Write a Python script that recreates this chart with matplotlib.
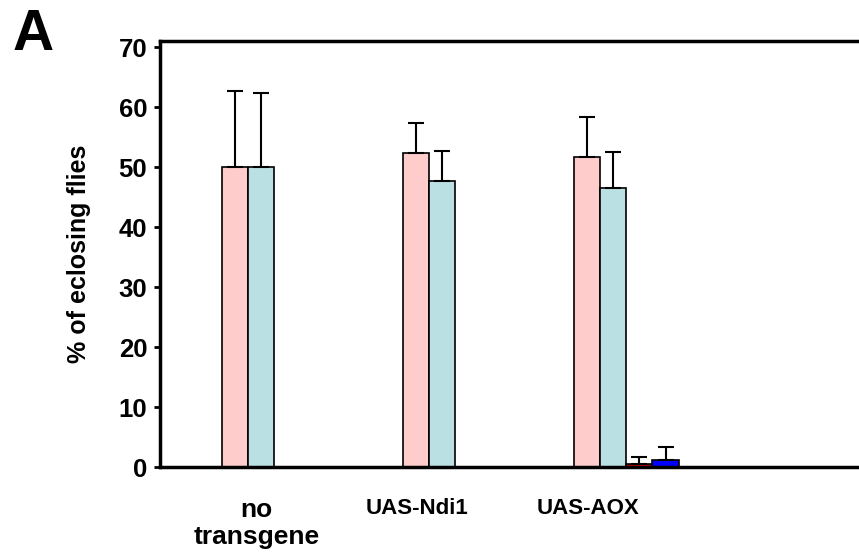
import numpy as np
import matplotlib
matplotlib.use("Agg")
import matplotlib.pyplot as plt

plt.rcParams["font.family"] = ["Liberation Sans", "DejaVu Sans"]
plt.rcParams["font.weight"] = "bold"

# ── data ───────────────────────────────────────────────────────────────────────
groups = ["no\ntransgene", "UAS-Ndi1", "UAS-AOX"]
pink_vals = [50.0, 52.3, 51.6]
pink_err = [12.6, 5.0, 6.7]
teal_vals = [50.0, 47.6, 46.5]
teal_err = [12.4, 5.1, 6.0]
red_vals = [0.0, 0.0, 0.5]
red_err = [0.0, 0.0, 1.1]
blue_vals = [0.0, 0.0, 1.2]
blue_err = [0.0, 0.0, 2.2]

series = [
    (pink_vals, pink_err, "#FFCCCC"),
    (teal_vals, teal_err, "#BBE0E3"),
    (red_vals, red_err, "#CC0000"),
    (blue_vals, blue_err, "#0000FF"),
]

# ── figure ─────────────────────────────────────────────────────────────────────
fig = plt.figure(figsize=(8.59, 5.58), dpi=100)
ax = fig.add_axes([0.186, 0.163, 0.814, 0.7635])

xs = np.array([0.0, 1.03, 2.0])   # group centres (Excel spacing is uneven)
width = 0.148
offsets = (np.arange(len(series)) - 1.5) * width

for off, (vals, errs, color) in zip(offsets, series):
    ax.bar(xs + off, vals, width=width, color=color, edgecolor="black",
           linewidth=1.2, zorder=2)
    show = np.array(errs) > 0
    ax.errorbar((xs + off)[show], np.array(vals)[show],
                yerr=[np.zeros(show.sum()), np.array(errs)[show]],
                fmt="none", ecolor="black", elinewidth=1.5, capsize=6,
                capthick=1.5, zorder=3)

ax.set_xlim(-0.648, 3.32)
ax.set_ylim(0, 71)
ax.set_yticks(np.arange(0, 71, 10))
ax.tick_params(axis="y", direction="out", length=4, width=2, labelsize=18.5, pad=5)
ax.tick_params(axis="x", length=0, labelsize=16, pad=22)
ax.set_xticks([-0.10, 0.81, 1.78])
ax.set_xticklabels(groups, fontweight="bold", linespacing=1.2, va="top")
ax.get_xticklabels()[0].set_fontsize(19)
for lbl in ax.get_yticklabels():
    lbl.set_fontweight("bold")

for side in ["left", "bottom", "top"]:
    ax.spines[side].set_linewidth(2.5)
ax.spines["right"].set_visible(False)

ax.set_ylabel("% of eclosing flies", fontsize=18, fontweight="bold", labelpad=20)

fig.text(0.015, 0.985, "A", fontsize=41, fontweight="bold", va="top", ha="left")

fig.savefig("out.png", dpi=100)
